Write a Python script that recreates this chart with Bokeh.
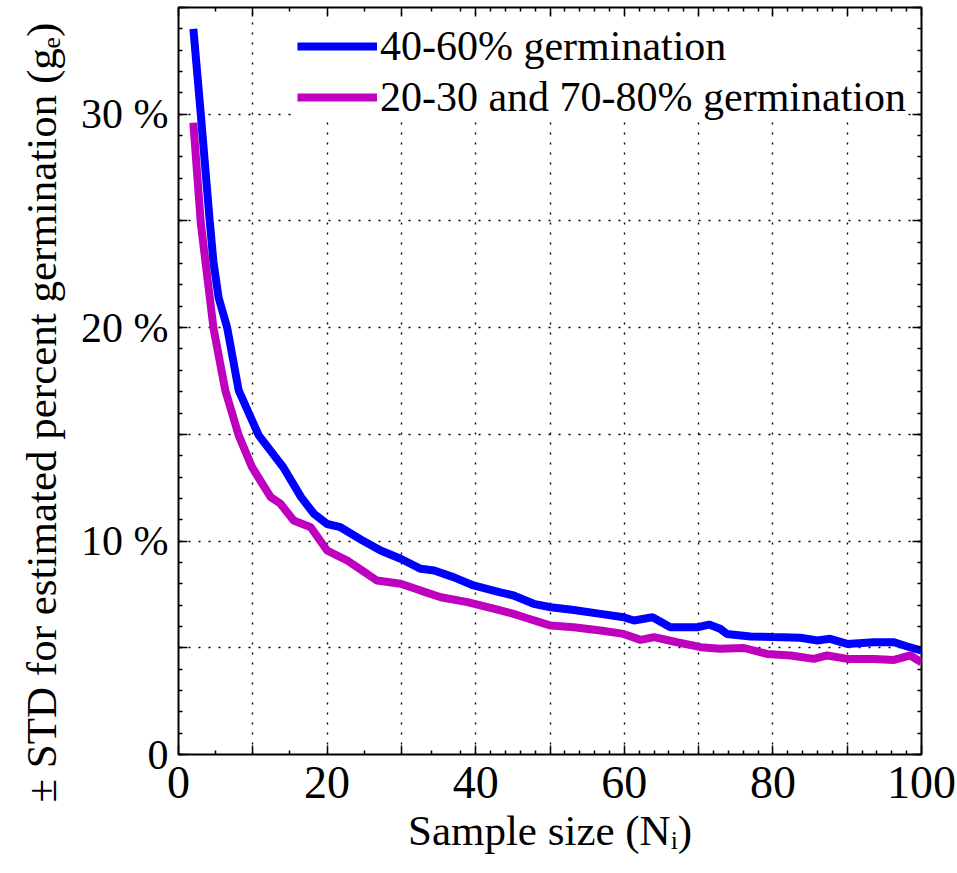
from bokeh.embed import file_html
from bokeh.models import FixedTicker, Grid, Legend, LegendItem, LinearAxis, Range1d, Title
from bokeh.plotting import figure
from bokeh.resources import INLINE

FONT = "Liberation Serif"
TITLE_FONT = "Times"

# Standard deviation of the estimated germination percentage vs. sample size
n_mid = [2, 3, 4.2, 4.7, 5.4, 6.55, 8.1, 10.8, 14.1, 16.5, 18.2, 20.0, 21.8, 24.9,
         27.2, 29.9, 32.6, 34.4, 37.0, 39.7, 42.4, 43.3, 45.1, 47.8, 50.1, 53.2,
         56.8, 59.9, 61.3, 63.8, 66.2, 69.8, 71.4, 72.9, 73.8, 77.0, 80.1, 83.7,
         86.0, 87.7, 90.0, 93.6, 96.3, 98.1, 100]
std_mid = [34.0, 30.0, 25.0, 23.1, 21.4, 20.0, 17.06, 14.95, 13.46, 12.06, 11.29,
           10.8, 10.65, 10.0, 9.56, 9.17, 8.7, 8.62, 8.31, 7.92, 7.68, 7.6, 7.45,
           7.06, 6.9, 6.77, 6.59, 6.43, 6.28, 6.43, 5.96, 5.96, 6.09, 5.89, 5.65,
           5.53, 5.5, 5.47, 5.34, 5.42, 5.18, 5.26, 5.26, 5.06, 4.87]

n_tail = [2, 3, 4.7, 6.3, 8.1, 9.9, 12.4, 13.7, 15.5, 17.8, 20.0, 22.7, 25.4, 26.7,
          29.9, 32.6, 35.3, 38.9, 42.4, 45.1, 46.5, 50.1, 53.2, 56.8, 59.9, 62.2,
          64.0, 67.1, 70.3, 72.9, 76.1, 79.2, 82.4, 85.5, 87.3, 90.0, 93.6, 96.3,
          98.5, 100]
std_tail = [29.6, 24.9, 20.0, 17.06, 14.95, 13.46, 12.06, 11.76, 10.96, 10.65, 9.56,
            9.09, 8.46, 8.15, 8.0, 7.68, 7.37, 7.14, 6.83, 6.59, 6.43, 6.04, 5.96,
            5.81, 5.65, 5.37, 5.5, 5.26, 5.03, 4.95, 4.99, 4.71, 4.64, 4.48, 4.64,
            4.48, 4.48, 4.43, 4.64, 4.32]

series_labels = ["40-60% germination", "20-30 and 70-80% germination"]
x_title = "Sample size (N\u1d62)"
y_title = "\u00b1 STD for estimated percent germination (g\u2091)"

# Axis ticks
x_major = list(range(0, 101, 10))
x_minor = [5, 15, 25, 34, 38] + [v for v in range(42, 100, 2) if v % 10]
x_tick_text = {v: (str(v) if v % 20 == 0 else "") for v in x_major}
y_major = list(range(0, 36, 5))
y_minor = list(range(0, 36))
y_tick_text = {0: "0", 5: "", 10: "10 %", 15: "", 20: "20 %", 25: "", 30: "30 %", 35: ""}
x_grid = list(range(10, 100, 10))
y_grid = list(range(5, 31, 5))

p = figure(width=957, height=873, output_backend="svg", toolbar_location=None,
           x_range=Range1d(0, 100), y_range=Range1d(0, 35),
           min_border_left=178, min_border_right=36,
           min_border_top=7, min_border_bottom=119,
           x_axis_type=None, y_axis_type=None)
p.background_fill_color = "white"
p.border_fill_color = "white"
p.outline_line_color = "black"
p.outline_line_width = 2


def make_axis(ticks, minor, labels, size):
    ax = LinearAxis(ticker=FixedTicker(ticks=ticks, minor_ticks=minor))
    ax.axis_line_color = None
    ax.major_tick_in = 9
    ax.major_tick_out = 0
    ax.minor_tick_in = 4
    ax.minor_tick_out = 0
    ax.major_tick_line_color = "black"
    ax.major_tick_line_width = 1.5
    ax.minor_tick_line_color = "black"
    ax.minor_tick_line_width = 1.5
    ax.major_label_text_font = FONT
    ax.major_label_text_color = "black"
    ax.axis_label_text_font = TITLE_FONT
    ax.axis_label_text_font_style = "normal"
    ax.axis_label_text_color = "black"
    ax.axis_label_text_font_size = "43px"
    if labels is not None:
        ax.major_label_overrides = labels
        ax.major_label_text_font_size = size
    else:
        ax.major_label_overrides = {t: "" for t in ticks}
        ax.major_label_text_font_size = "0px"
        ax.major_label_standoff = 0
    return ax


xb = make_axis(x_major, x_minor, x_tick_text, "46px")
xb.major_label_standoff = 12
xb.axis_label = x_title
xb.axis_label_standoff = 6
yl = make_axis(y_major, y_minor, y_tick_text, "42px")
yl.major_label_standoff = 10
p.add_layout(xb, "below")
p.add_layout(yl, "left")
p.add_layout(make_axis(x_major, x_minor, None, None), "above")
p.add_layout(make_axis(y_major, y_minor, None, None), "right")

# vertical axis title, starting a little below the plot box
p.add_layout(Title(text=y_title, align="left", offset=-48, standoff=28,
                   vertical_align="bottom", text_font=TITLE_FONT, text_font_size="43px",
                   text_font_style="normal", text_color="black"), "left")

# dotted grid
gx = Grid(dimension=0, ticker=FixedTicker(ticks=x_grid))
gy = Grid(dimension=1, ticker=FixedTicker(ticks=y_grid))
for g in (gx, gy):
    g.grid_line_color = "black"
    g.grid_line_width = 1.4
    g.grid_line_dash = "2 8"
    p.add_layout(g)

r_tail = p.line(n_tail, std_tail, line_color="#BF00BF", line_width=8)
r_mid = p.line(n_mid, std_mid, line_color="#0000FF", line_width=8)

legend = Legend(items=[LegendItem(label=series_labels[0], renderers=[r_mid]),
                       LegendItem(label=series_labels[1], renderers=[r_tail])],
                location="top_right", margin=15, padding=18, spacing=3,
                glyph_width=80, glyph_height=44, label_standoff=3,
                label_text_font=FONT, label_text_font_size="42px",
                label_text_color="black",
                background_fill_color="white", background_fill_alpha=1.0,
                border_line_color=None)
p.add_layout(legend)

open("out.html", "w").write(file_html(p, INLINE))
